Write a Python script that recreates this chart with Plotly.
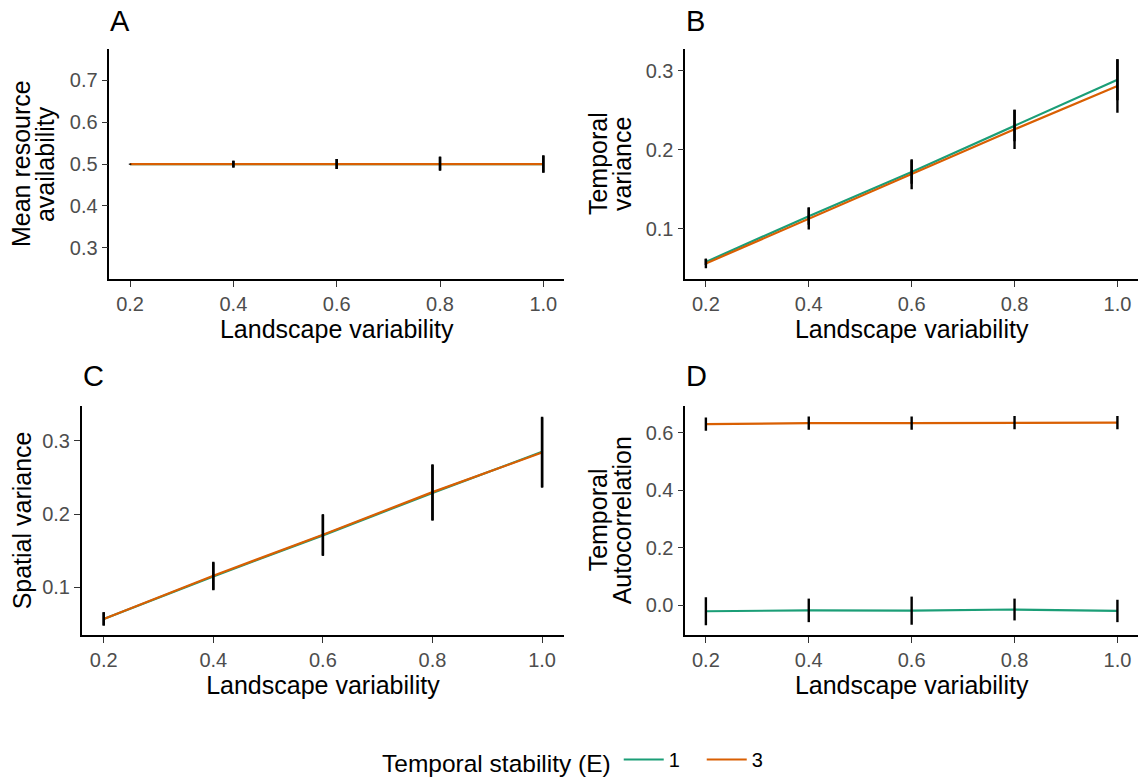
import plotly.graph_objects as go

# ---------------- data ----------------
landscape_var = [0.2, 0.4, 0.6, 0.8, 1.0]
x_tick_labels = ["0.2", "0.4", "0.6", "0.8", "1.0"]
stability_levels = ["1", "3"]

# A: mean resource availability
mean_res_E1 = [0.500, 0.500, 0.500, 0.501, 0.500]
mean_res_E3 = [0.500, 0.500, 0.500, 0.501, 0.500]
mean_res_sd_E1 = [0.001, 0.008, 0.012, 0.016, 0.020]
mean_res_sd_E3 = [0.001, 0.008, 0.012, 0.017, 0.021]

# B: temporal variance
temp_var_E1 = [0.058, 0.116, 0.172, 0.231, 0.289]
temp_var_E3 = [0.056, 0.113, 0.169, 0.226, 0.281]
temp_var_sd_E1 = [0.004, 0.011, 0.015, 0.020, 0.026]
temp_var_sd_E3 = [0.006, 0.014, 0.019, 0.025, 0.034]

# C: spatial variance
spat_var_E1 = [0.057, 0.115, 0.171, 0.229, 0.285]
spat_var_E3 = [0.057, 0.116, 0.172, 0.230, 0.284]
spat_var_sd_E1 = [0.009, 0.019, 0.028, 0.038, 0.048]
spat_var_sd_E3 = [0.009, 0.019, 0.028, 0.038, 0.048]

# D: temporal autocorrelation
autocor_E1 = [-0.021, -0.018, -0.019, -0.015, -0.020]
autocor_E3 = [0.631, 0.634, 0.634, 0.636, 0.636]
autocor_sd_E1 = [0.049, 0.041, 0.049, 0.038, 0.039]
autocor_sd_E3 = [0.023, 0.023, 0.023, 0.023, 0.023]

panel_letters = ["A", "B", "C", "D"]
y_title_lines = [["Mean resource", "availability"], ["Temporal", "variance"],
                 ["Spatial variance"], ["Temporal", "Autocorrelation"]]
x_title = "Landscape variability"
legend_title = "Temporal stability (E)"

y_ranges = [[0.225, 0.775], [0.036, 0.328], [0.035, 0.348], [-0.104, 0.695]]
y_tickvals = [[0.3, 0.4, 0.5, 0.6, 0.7], [0.1, 0.2, 0.3], [0.1, 0.2, 0.3],
              [0.0, 0.2, 0.4, 0.6]]
y_ticktext = [["0.3", "0.4", "0.5", "0.6", "0.7"], ["0.1", "0.2", "0.3"],
              ["0.1", "0.2", "0.3"], ["0.0", "0.2", "0.4", "0.6"]]

colors = {"1": "#1B9E77", "3": "#D95F02"}

panels = [
    (mean_res_E1, mean_res_E3, mean_res_sd_E1, mean_res_sd_E3),
    (temp_var_E1, temp_var_E3, temp_var_sd_E1, temp_var_sd_E3),
    (spat_var_E1, spat_var_E3, spat_var_sd_E1, spat_var_sd_E3),
    (autocor_E1, autocor_E3, autocor_sd_E1, autocor_sd_E3),
]

# ---------------- layout geometry ----------------
W, H = 1147, 782
FONT = "Liberation Sans, Arial, Helvetica, sans-serif"

def px_x(a, b):
    return [a / W, b / W]

def px_y(top, bottom):
    return [1 - bottom / H, 1 - top / H]

x_domains = [px_x(109.4, 564), px_x(685.3, 1138), px_x(81.8, 564), px_x(685.3, 1138)]
y_domains = [px_y(49, 280), px_y(49, 280), px_y(406.7, 636.7), px_y(406.7, 636.7)]
letter_pos = [(108, 21), (684, 21), (81, 377), (684, 377)]
# x-centres (px) of the lines of each rotated y title
y_title_x = [[21, 45], [598, 622], [22], [598, 622]]

fig = go.Figure()

for i, (e1, e3, sd1, sd3) in enumerate(panels):
    xa = "x" if i == 0 else f"x{i+1}"
    ya = "y" if i == 0 else f"y{i+1}"
    for lvl, vals in (("1", e1), ("3", e3)):
        fig.add_trace(go.Scatter(
            x=landscape_var, y=vals, mode="lines", name=lvl,
            line=dict(color=colors[lvl], width=2.2),
            legendgroup=lvl, showlegend=(i == 0),
            xaxis=xa, yaxis=ya, hoverinfo="skip"))
    for lvl, vals, sd in (("1", e1, sd1), ("3", e3, sd3)):
        fig.add_trace(go.Scatter(
            x=landscape_var, y=vals, mode="markers",
            marker=dict(size=0.1, color="rgba(0,0,0,0)"),
            error_y=dict(type="data", array=sd, visible=True,
                         color="black", thickness=2.4, width=0),
            legendgroup=lvl, showlegend=False,
            xaxis=xa, yaxis=ya, hoverinfo="skip"))

axis_common = dict(
    showline=True, linecolor="black", linewidth=1.6,
    ticks="outside", ticklen=6, tickwidth=1.4, tickcolor="#333333",
    tickfont=dict(size=20, color="#4D4D4D", family=FONT),
    showgrid=False, zeroline=False, mirror=False,
)

layout = dict(
    width=W, height=H,
    margin=dict(l=0, r=0, t=0, b=0),
    paper_bgcolor="white", plot_bgcolor="white",
    font=dict(family=FONT, color="black"),
    showlegend=True,
    legend=dict(
        orientation="h", x=380 / W, xanchor="left", y=1 - 763 / H, yanchor="middle",
        title=dict(text=legend_title, side="left", font=dict(size=24.5, color="black")),
        font=dict(size=20, color="black"),
        itemwidth=40, entrywidth=28, bgcolor="rgba(0,0,0,0)",
    ),
    annotations=[],
)

for i in range(4):
    xkey = "xaxis" if i == 0 else f"xaxis{i+1}"
    ykey = "yaxis" if i == 0 else f"yaxis{i+1}"
    yanchor_name = "y" if i == 0 else f"y{i+1}"
    xanchor_name = "x" if i == 0 else f"x{i+1}"
    layout[xkey] = dict(
        axis_common, domain=x_domains[i], anchor=yanchor_name,
        range=[0.16, 1.04], tickvals=landscape_var, ticktext=x_tick_labels,
        title=dict(text=x_title, font=dict(size=25, color="black"), standoff=4),
    )
    layout[ykey] = dict(
        axis_common, domain=y_domains[i], anchor=xanchor_name,
        range=y_ranges[i], tickvals=y_tickvals[i], ticktext=y_ticktext[i],
    )
    lx, ly = letter_pos[i]
    layout["annotations"].append(dict(
        text=panel_letters[i], x=lx / W, y=1 - ly / H, xref="paper", yref="paper",
        xanchor="left", yanchor="middle", showarrow=False,
        font=dict(size=29, color="black", family=FONT),
    ))
    ymid = sum(y_domains[i]) / 2
    for line_text, cx in zip(y_title_lines[i], y_title_x[i]):
        layout["annotations"].append(dict(
            text=line_text, x=cx / W, y=ymid, xref="paper", yref="paper",
            xanchor="center", yanchor="middle", textangle=-90, showarrow=False,
            font=dict(size=25, color="black", family=FONT),
        ))

fig.update_layout(**layout)
fig.write_html("out.html")
